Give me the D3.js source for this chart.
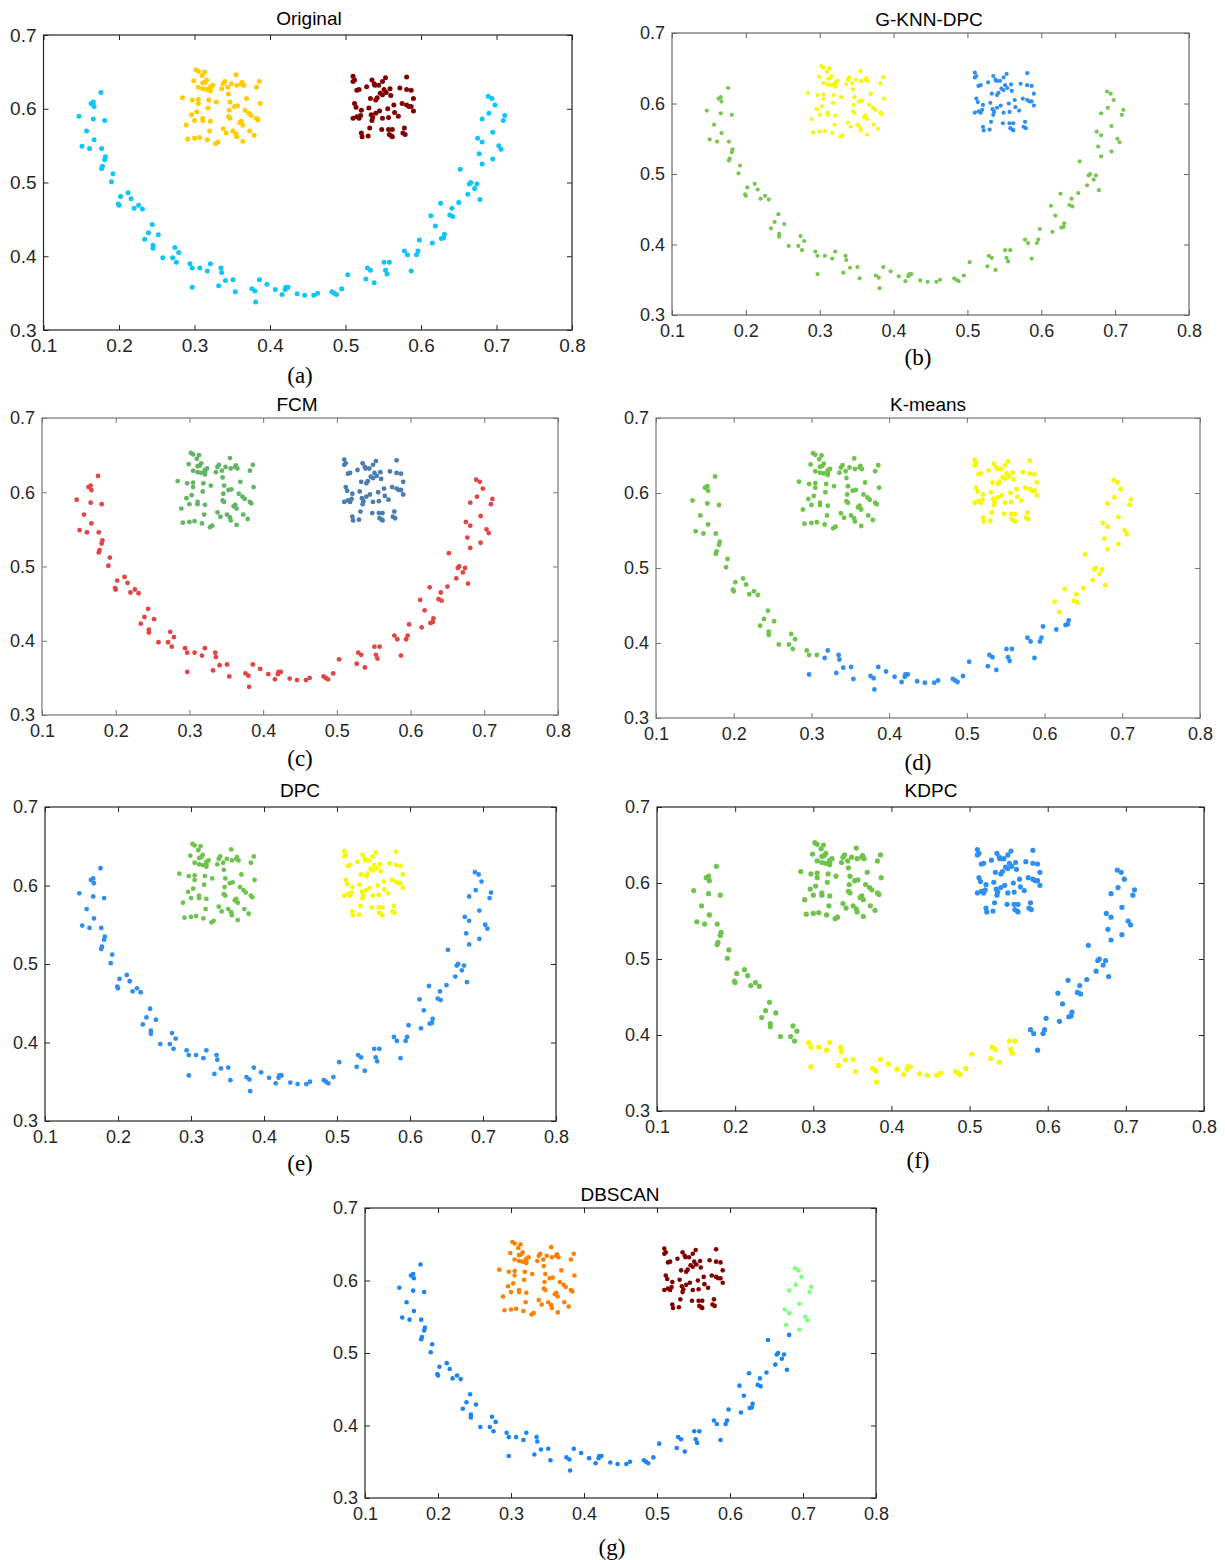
<!DOCTYPE html>
<html>
<head>
<meta charset="utf-8">
<script src="https://cdn.jsdelivr.net/npm/d3@7/dist/d3.min.js"></script>
<style>
  body { margin: 0; background: #fff; }
  svg { display: block; }
  .tick text { fill: #262626; font-family: "Liberation Sans", Arial, sans-serif; }
</style>
</head>
<body>
<div id="fig"></div>
<script>
// Dados (mesmo conjunto em todos os painéis)
const xTicks = [0.1, 0.2, 0.3, 0.4, 0.5, 0.6, 0.7, 0.8];
const yTicks = [0.3, 0.4, 0.5, 0.6, 0.7];

// arco (o "sorriso")
const arcPoints = [
  [0.147,0.590],[0.151,0.549],[0.157,0.570],[0.161,0.546],[0.163,0.607],[0.166,0.609],
  [0.167,0.603],[0.166,0.586],[0.167,0.558],[0.176,0.622],[0.181,0.584],[0.177,0.546],
  [0.182,0.535],[0.181,0.531],[0.178,0.522],[0.177,0.519],[0.192,0.512],[0.190,0.501],
  [0.202,0.481],[0.199,0.471],[0.200,0.469],[0.212,0.486],[0.216,0.478],[0.220,0.465],
  [0.226,0.469],[0.231,0.464],[0.244,0.443],[0.239,0.432],[0.234,0.423],[0.252,0.429],
  [0.245,0.415],[0.245,0.411],[0.258,0.398],[0.271,0.398],[0.274,0.412],[0.279,0.405],
  [0.276,0.392],[0.294,0.390],[0.297,0.384],[0.297,0.358],[0.307,0.384],[0.317,0.380],
  [0.321,0.390],[0.335,0.384],[0.336,0.378],[0.332,0.360],[0.341,0.367],[0.351,0.368],
  [0.354,0.352],[0.376,0.356],[0.380,0.353],[0.386,0.368],[0.381,0.338],[0.396,0.362],
  [0.407,0.355],[0.416,0.348],[0.421,0.358],[0.420,0.355],[0.424,0.358],[0.436,0.349],
  [0.446,0.347],[0.458,0.347],[0.463,0.350],[0.482,0.352],[0.485,0.350],[0.488,0.348],
  [0.495,0.356],[0.503,0.375],[0.527,0.369],[0.529,0.384],[0.533,0.381],[0.538,0.364],
  [0.551,0.392],[0.558,0.392],[0.553,0.381],[0.555,0.376],[0.587,0.380],[0.578,0.407],
  [0.582,0.402],[0.594,0.402],[0.596,0.407],[0.598,0.422],[0.615,0.418],[0.613,0.455],
  [0.619,0.441],[0.626,0.472],[0.627,0.424],[0.631,0.430],[0.630,0.425],[0.638,0.456],
  [0.641,0.465],[0.642,0.454],[0.650,0.473],[0.652,0.518],[0.662,0.484],[0.664,0.498],
  [0.666,0.500],[0.671,0.492],[0.674,0.498],[0.678,0.477],[0.675,0.560],[0.677,0.539],
  [0.681,0.555],[0.681,0.525],[0.681,0.586],[0.689,0.617],[0.694,0.614],[0.690,0.594],
  [0.698,0.605],[0.695,0.568],[0.695,0.532],[0.703,0.550],[0.706,0.545],[0.709,0.584],
  [0.711,0.591]
];

// quadrado da esquerda
const leftSquare = [
  [0.284,0.615],[0.289,0.578],[0.291,0.559],[0.299,0.638],[0.297,0.612],[0.296,0.592],
  [0.300,0.584],[0.300,0.560],[0.302,0.653],[0.305,0.651],[0.303,0.596],[0.305,0.613],
  [0.305,0.607],[0.305,0.629],[0.307,0.561],[0.310,0.645],[0.311,0.635],[0.313,0.650],
  [0.311,0.627],[0.314,0.636],[0.316,0.626],[0.316,0.639],[0.311,0.587],[0.311,0.584],
  [0.321,0.627],[0.321,0.630],[0.321,0.624],[0.319,0.612],[0.318,0.601],[0.321,0.583],
  [0.317,0.558],[0.320,0.570],[0.324,0.632],[0.329,0.609],[0.328,0.553],[0.331,0.555],
  [0.336,0.627],[0.338,0.634],[0.340,0.637],[0.338,0.573],[0.342,0.567],[0.344,0.629],
  [0.345,0.620],[0.347,0.609],[0.346,0.598],[0.345,0.589],[0.347,0.587],[0.349,0.634],
  [0.351,0.570],[0.353,0.603],[0.355,0.566],[0.356,0.562],[0.355,0.646],[0.356,0.632],
  [0.357,0.604],[0.362,0.634],[0.360,0.581],[0.362,0.583],[0.364,0.556],[0.363,0.636],
  [0.365,0.632],[0.364,0.578],[0.367,0.598],[0.369,0.614],[0.373,0.570],[0.372,0.594],
  [0.375,0.591],[0.379,0.564],[0.382,0.629],[0.382,0.587],[0.384,0.585],[0.386,0.637],
  [0.387,0.607]
];

// quadrado da direita
const rightSquare = [
  [0.510,0.644],[0.510,0.637],[0.512,0.639],[0.515,0.625],[0.518,0.626],[0.512,0.607],
  [0.514,0.602],[0.510,0.587],[0.515,0.589],[0.518,0.587],[0.520,0.591],[0.521,0.598],
  [0.521,0.567],[0.522,0.562],[0.530,0.563],[0.528,0.630],[0.531,0.601],[0.532,0.574],
  [0.535,0.639],[0.533,0.614],[0.534,0.592],[0.536,0.588],[0.535,0.584],[0.538,0.634],
  [0.539,0.632],[0.540,0.612],[0.542,0.615],[0.540,0.594],[0.544,0.632],[0.546,0.621],
  [0.545,0.597],[0.549,0.637],[0.549,0.619],[0.551,0.626],[0.553,0.642],[0.554,0.622],
  [0.549,0.587],[0.548,0.572],[0.556,0.600],[0.557,0.588],[0.557,0.572],[0.559,0.627],
  [0.560,0.618],[0.558,0.565],[0.561,0.563],[0.562,0.562],[0.562,0.572],[0.564,0.605],
  [0.565,0.595],[0.570,0.590],[0.572,0.628],[0.575,0.607],[0.578,0.574],[0.576,0.567],
  [0.579,0.565],[0.581,0.643],[0.581,0.626],[0.581,0.605],[0.584,0.603],[0.587,0.625],
  [0.587,0.603],[0.590,0.614],[0.590,0.597]
];

const titles = ['Original', 'G-KNN-DPC', 'FCM', 'K-means', 'DPC', 'KDPC', 'DBSCAN'];
const captions = ['(a)', '(b)', '(c)', '(d)', '(e)', '(f)', '(g)'];

// cores
const cyan = '#0dc6f8', gold = '#ffcc00', maroon = '#800000';
const green = '#6ec34b', yellow = '#f7f700', blue = '#2f8ff0';

// atribuição de cores por painel (grupo: 'arc' | 'left' | 'right')
const colorFns = [
  (g) => g === 'arc' ? cyan : g === 'left' ? gold : maroon,
  (g) => g === 'arc' ? '#77c74e' : g === 'left' ? yellow : blue,
  (g) => g === 'arc' ? '#e34444' : g === 'left' ? '#62b562' : '#4a7cae',
  (g, d) => {
    if (g === 'left') return green;
    if (g === 'right') return yellow;
    if (d[0] < 0.31 && d[1] > 0.37) return green;
    if (d[0] > 0.6 && d[1] > 0.435) return yellow;
    return blue;
  },
  (g) => g === 'arc' ? blue : g === 'left' ? green : yellow,
  (g, d) => {
    if (g === 'left') return green;
    if (g === 'right') return blue;
    if (d[0] < 0.285) return green;
    if (d[0] <= 0.565) return yellow;
    return blue;
  },
  (g, d) => {
    if (g === 'left') return '#ff8000';
    if (g === 'right') return maroon;
    if (d[0] > 0.674 && d[1] > 0.53) return '#80ff80';
    return '#1a84f5';
  }
];

// layout de cada painel
const panels = [
  { x0: 43.5, x1: 572, y0: 35, y1: 330, tx: 309, ty: 18, cx: 300, cy: 375, fs: 19, r: 2.5, frame: '#262626' },
  { x0: 672, x1: 1189, y0: 33, y1: 315, tx: 929, ty: 19, cx: 918, cy: 357, fs: 18, r: 2.1, frame: '#666' },
  { x0: 42, x1: 558, y0: 418, y1: 715, tx: 297, ty: 404, cx: 300, cy: 758, fs: 18, r: 2.4, frame: '#777' },
  { x0: 656, x1: 1200, y0: 418, y1: 718, tx: 928, ty: 404, cx: 918, cy: 762, fs: 18, r: 2.4, frame: '#777' },
  { x0: 45, x1: 556, y0: 807, y1: 1121, tx: 300, ty: 790, cx: 300, cy: 1163, fs: 18, r: 2.4, frame: '#262626' },
  { x0: 657, x1: 1204, y0: 807, y1: 1111, tx: 931, ty: 790, cx: 918, cy: 1160, fs: 18, r: 2.6, frame: '#262626' },
  { x0: 365, x1: 876, y0: 1208, y1: 1498, tx: 620, ty: 1194, cx: 612, cy: 1547, fs: 18, r: 2.3, frame: '#262626' }
];

const svg = d3.select('#fig').append('svg')
  .attr('width', 1225)
  .attr('height', 1560);

svg.append('rect').attr('width', 1225).attr('height', 1560).attr('fill', '#fff');

const allPoints = [
  ...arcPoints.map(d => ({ g: 'arc', d })),
  ...leftSquare.map(d => ({ g: 'left', d })),
  ...rightSquare.map(d => ({ g: 'right', d }))
];

panels.forEach((p, i) => {
  const x = d3.scaleLinear().domain([0.1, 0.8]).range([p.x0, p.x1]);
  const y = d3.scaleLinear().domain([0.3, 0.7]).range([p.y1, p.y0]);
  const g = svg.append('g');
  const fmt = d3.format('.1f');

  // eixos com ticks para dentro (estilo MATLAB)
  const axes = [
    [d3.axisBottom(x).tickValues(xTicks).tickFormat(fmt).tickSize(-5).tickPadding(9), `translate(0,${p.y1})`],
    [d3.axisTop(x).tickValues(xTicks).tickFormat('').tickSize(-5), `translate(0,${p.y0})`],
    [d3.axisLeft(y).tickValues(yTicks).tickFormat(fmt).tickSize(-5).tickPadding(7), `translate(${p.x0},0)`],
    [d3.axisRight(y).tickValues(yTicks).tickFormat('').tickSize(-5), `translate(${p.x1},0)`]
  ];
  axes.forEach(([ax, tr]) => {
    const a = g.append('g').attr('transform', tr).call(ax.tickSizeOuter(0));
    a.select('.domain').remove();
    a.selectAll('line').attr('stroke', p.frame);
    a.selectAll('text').style('font-size', p.fs + 'px');
  });

  g.append('rect')
    .attr('x', p.x0).attr('y', p.y0)
    .attr('width', p.x1 - p.x0).attr('height', p.y1 - p.y0)
    .attr('fill', 'none')
    .attr('stroke', p.frame)
    .attr('stroke-width', 1.2);

  // pontos
  g.selectAll('circle')
    .data(allPoints)
    .enter()
    .append('circle')
    .attr('cx', o => x(o.d[0]))
    .attr('cy', o => y(o.d[1]))
    .attr('r', p.r)
    .attr('fill', o => colorFns[i](o.g, o.d));

  // título
  g.append('text')
    .attr('x', p.tx).attr('y', p.ty)
    .attr('text-anchor', 'middle')
    .attr('dominant-baseline', 'central')
    .style('font-family', '"Liberation Sans", Arial, sans-serif')
    .style('font-size', '19px')
    .attr('fill', '#000')
    .text(titles[i]);

  // legenda (a), (b)...
  g.append('text')
    .attr('x', p.cx).attr('y', p.cy)
    .attr('text-anchor', 'middle')
    .attr('dominant-baseline', 'central')
    .style('font-family', '"Liberation Serif", "Times New Roman", serif')
    .style('font-size', '23px')
    .attr('fill', '#000')
    .text(captions[i]);
});
</script>
</body>
</html>
